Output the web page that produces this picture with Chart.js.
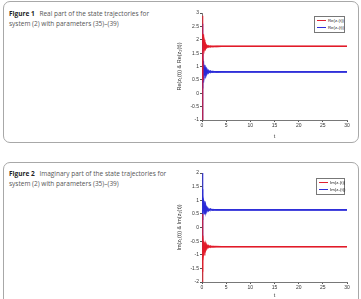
<!DOCTYPE html>
<html>
<head>
<meta charset="utf-8">
<script src="https://cdn.jsdelivr.net/npm/chart.js@4"></script>
<style>
  html, body { margin: 0; padding: 0; background: #fff; width: 361px; height: 299px; overflow: hidden; }
  .panel { position: absolute; left: 3px; width: 354px; border: 1px solid #a8a8a8; border-radius: 7px; }
  .cap { position: absolute; left: 9px; font-family: "Open Sans", sans-serif; font-size: 6.5px; line-height: 9.5px; color: #555; }
  .cap b { color: #222; margin-right: 3px; }
  canvas { position: absolute; }
  .legend { position: absolute; border: 1px solid #777; background: #fff; font-family: "Liberation Sans", sans-serif; font-size: 4.3px; color: #222; padding: 1px 2px; }
  .legend div { height: 6.5px; line-height: 6.5px; white-space: nowrap; }
  .legend span.ln { display: inline-block; width: 9px; height: 0; border-top: 1px solid; vertical-align: middle; margin-right: 2px; }
</style>
</head>
<body>
<div class="panel" style="top:1px;height:140px;"></div>
<div class="panel" style="top:162px;height:160px;"></div>

<div class="cap" style="top:9px;"><b>Figure 1</b> Real part of the state trajectories for<br>system (2) with parameters (35)–(39)</div>
<div class="cap" style="top:169px;"><b>Figure 2</b> Imaginary part of the state trajectories for<br>system (2) with parameters (35)–(39)</div>

<canvas id="fig1" width="180" height="132" style="left:176px;top:8px;"></canvas>
<canvas id="fig2" width="180" height="131" style="left:176px;top:168px;"></canvas>

<div class="legend" style="left:314px;top:16px;width:25px;">
  <div><span class="ln" style="color:#e02030"></span>Re(z₁(t))</div>
  <div><span class="ln" style="color:#3030d8"></span>Re(z₂(t))</div>
</div>
<div class="legend" style="left:316px;top:178px;width:23px;">
  <div><span class="ln" style="color:#e02030"></span>Im(z₁(t))</div>
  <div><span class="ln" style="color:#3030d8"></span>Im(z₂(t))</div>
</div>

<script>
// sample times shared by every trajectory
const times = [0, 0.1, 0.2, 0.3, 0.45, 0.6, 0.8, 1.0, 1.3, 1.7, 2.2, 3, 4, 5, 30];
const xTicks = [0, 5, 10, 15, 20, 25, 30];

// Figure 1: real parts, red = z1 (-> 1.75), blue = z2 (-> 0.8)
const re1 = [
  [2.9, 2.5, 2.1, 1.8, 1.62, 1.85, 1.70, 1.78, 1.73, 1.77, 1.74, 1.76, 1.75, 1.75, 1.75],
  [-1.0, 0.2, 1.2, 2.1, 2.0, 1.6, 1.82, 1.70, 1.78, 1.73, 1.76, 1.745, 1.752, 1.75, 1.75],
  [0.5, 1.0, 1.6, 2.2, 1.9, 1.65, 1.80, 1.72, 1.77, 1.74, 1.755, 1.748, 1.75, 1.75, 1.75],
  [2.2, 2.0, 1.9, 1.6, 1.7, 1.83, 1.69, 1.79, 1.72, 1.76, 1.745, 1.755, 1.75, 1.75, 1.75]
];
const re2 = [
  [2.6, 1.8, 1.0, 0.4, 0.6, 1.0, 0.7, 0.9, 0.75, 0.84, 0.78, 0.81, 0.8, 0.8, 0.8],
  [-1.0, -0.2, 0.6, 1.1, 0.95, 0.65, 0.92, 0.72, 0.86, 0.77, 0.82, 0.795, 0.803, 0.8, 0.8],
  [1.5, 1.2, 0.7, 0.5, 1.05, 0.7, 0.88, 0.73, 0.85, 0.78, 0.815, 0.79, 0.8, 0.8, 0.8],
  [0.2, 0.4, 0.9, 1.2, 0.7, 0.95, 0.68, 0.9, 0.76, 0.83, 0.79, 0.805, 0.8, 0.8, 0.8]
];

// Figure 2: imaginary parts, red = z1 (-> -0.7), blue = z2 (-> 0.65)
const im1 = [
  [-2.0, -1.6, -1.2, -0.8, -0.55, -0.85, -0.62, -0.76, -0.67, -0.72, -0.69, -0.705, -0.7, -0.7, -0.7],
  [0.5, 0.0, -0.5, -1.0, -0.9, -0.55, -0.8, -0.64, -0.74, -0.68, -0.71, -0.697, -0.702, -0.7, -0.7],
  [-1.0, -1.2, -0.9, -0.5, -0.75, -0.9, -0.6, -0.78, -0.66, -0.73, -0.69, -0.703, -0.7, -0.7, -0.7],
  [-1.6, -0.8, -0.3, -0.6, -1.0, -0.65, -0.78, -0.65, -0.73, -0.68, -0.71, -0.7, -0.7, -0.7, -0.7]
];
const im2 = [
  [2.0, 1.6, 1.2, 0.85, 0.55, 0.9, 0.6, 0.75, 0.62, 0.68, 0.64, 0.655, 0.65, 0.65, 0.65],
  [-0.8, 0.0, 0.6, 1.0, 0.95, 0.5, 0.78, 0.58, 0.70, 0.62, 0.665, 0.645, 0.652, 0.65, 0.65],
  [1.2, 1.4, 1.0, 0.6, 0.8, 0.95, 0.55, 0.72, 0.6, 0.68, 0.64, 0.655, 0.65, 0.65, 0.65],
  [0.3, 0.6, 1.1, 0.9, 0.5, 0.8, 0.62, 0.74, 0.63, 0.67, 0.645, 0.653, 0.65, 0.65, 0.65]
];

const RED = 'rgba(225,25,40,0.75)';
const BLUE = 'rgba(40,40,215,0.75)';

function toSets(runs, color) {
  return runs.map(vals => ({
    data: vals.map((v, i) => ({ x: times[i], y: v })),
    borderColor: color,
    borderWidth: 1.3,
    pointRadius: 0,
    tension: 0,
    fill: false
  }));
}

function makeChart(id, reds, blues, yMin, yMax, yTitle, xH) {
  const tickFont = { family: 'Liberation Sans', size: 5 };
  new Chart(document.getElementById(id), {
    type: 'line',
    data: { datasets: [...toSets(reds, RED), ...toSets(blues, BLUE)] },
    options: {
      responsive: false,
      animation: false,
      layout: { padding: { top: 5, right: 9, left: 0, bottom: 0 } },
      plugins: { legend: { display: false }, tooltip: { enabled: false } },
      scales: {
        x: {
          type: 'linear', min: 0, max: 30,
          afterBuildTicks: s => { s.ticks = xTicks.map(v => ({ value: v })); },
          afterFit: s => { s.height = xH; },
          grid: { display: true, drawOnChartArea: false, tickLength: 2, color: '#555' },
          border: { color: '#555', width: 0.8 },
          ticks: { font: tickFont, color: '#333', padding: 1, maxRotation: 0 },
          title: { display: true, text: 't', font: { family: 'Liberation Sans', size: 5.5 }, color: '#333', padding: 0 }
        },
        y: {
          min: yMin, max: yMax,
          ticks: { stepSize: 0.5, font: tickFont, color: '#333', padding: 1,
                   callback: v => String(+Number(v).toFixed(1)) },
          afterFit: s => { s.width = 26; },
          grid: { display: true, drawOnChartArea: false, tickLength: 2, color: '#555' },
          border: { color: '#555', width: 0.8 },
          title: { display: true, text: yTitle, font: { family: 'Liberation Sans', size: 5.5 }, color: '#333', padding: 0 }
        }
      }
    }
  });
}

makeChart('fig1', re1, re2, -1, 3, 'Re(z₁(t)) & Re(z₂(t))', 20);
makeChart('fig2', im1, im2, -2, 2, 'Im(z₁(t)) & Im(z₂(t))', 17);
</script>
</body>
</html>
